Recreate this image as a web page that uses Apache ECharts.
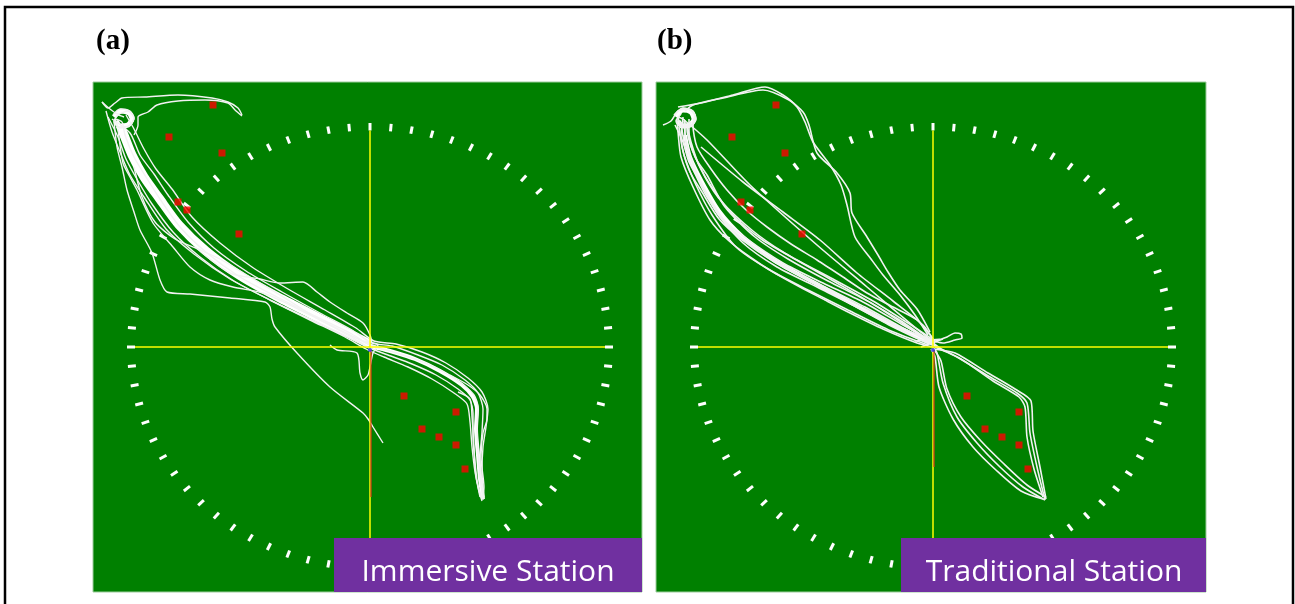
<!DOCTYPE html>
<html>
<head>
<meta charset="utf-8">
<script src="https://cdn.jsdelivr.net/npm/echarts@6/dist/echarts.min.js"></script>
<style>
  html, body { margin: 0; padding: 0; background: #fff; }
  #main { width: 1295px; height: 604px; }
</style>
</head>
<body>
<div id="main"></div>
<script>
// positions are offsets from the platform centre (x right, y up)
var tickAngles = [0, 5, 10, 15, 20, 25, 30, 35, 40, 45, 50, 55, 60, 65, 70, 75, 80, 85,
    90, 95, 100, 105, 110, 115, 120, 125, 130, 135, 140, 145, 150, 155, 160, 165, 170, 175,
    180, 185, 190, 195, 200, 205, 210, 215, 220, 225, 230, 235, 240, 245, 250, 255, 260, 265,
    270, 275, 280, 285, 290, 295, 300, 305, 310, 315, 320, 325, 330, 335, 340, 345, 350, 355]

// red targets (same in both panels)
var targets = [[-157, 242], [-201, 210], [-148, 194], [-192, 145], [-183, 137], [-131, 113],
    [34, -49], [86, -65], [52, -82], [69, -90], [86, -98], [95, -122]]

// (a) immersive station tracks
var coreA = [
    [[-250, 222], [-246, 212], [-238, 192], [-226, 170], [-211, 149], [-191, 122], [-164, 96], [-131, 72], [-94, 51], [-55, 31], [-22, 14], [0, 3]],
    [[0, 1], [20, -4], [45, -12], [70, -24], [92, -38], [103, -50], [107, -62], [106, -82], [108, -108], [110, -132], [113, -152]],
    [[-256, 230], [-249, 236], [-241, 234], [-238, 228], [-242, 222], [-250, 221], [-254, 226]]
]
var tracksA = [
    [[-268, 245], [-260, 238], [-252, 233], [-242, 236], [-236, 229], [-241, 221], [-251, 220], [-255, 228], [-248, 225], [-245, 212], [-236, 190], [-224, 170], [-210, 148], [-190, 120], [-163, 94], [-130, 70], [-93, 50], [-53, 30], [-20, 14], [0, 2], [20, -4], [45, -12], [70, -23], [92, -37], [104, -48], [108, -60], [107, -80], [108, -105], [110, -130], [113, -153]],
    [[-258, 228], [-240, 214], [-230, 192], [-216, 173], [-202, 152], [-182, 125], [-156, 99], [-124, 76], [-88, 55], [-50, 34], [-18, 17], [2, 4], [22, 1], [48, -8], [72, -18], [95, -33], [108, -46], [113, -62], [112, -85], [110, -112], [112, -138], [114, -152]],
    [[-262, 230], [-252, 210], [-244, 188], [-232, 166], [-218, 143], [-197, 115], [-170, 90], [-136, 66], [-98, 46], [-58, 27], [-24, 11], [-3, 0], [18, -8], [42, -17], [66, -28], [88, -42], [100, -53], [103, -66], [103, -90], [105, -115], [108, -140], [112, -154]],
    [[-264, 236], [-258, 215], [-250, 195], [-240, 172], [-226, 150], [-204, 118], [-176, 93], [-140, 68], [-100, 47], [-60, 27], [-25, 10], [-4, -2], [14, -10], [38, -20], [62, -32], [84, -46], [97, -57], [100, -75], [102, -100], [105, -125], [110, -150]],
    [[-244, 232], [-236, 218], [-226, 198], [-214, 178], [-198, 158], [-178, 130], [-150, 104], [-118, 80], [-82, 58], [-45, 37], [-14, 19], [4, 6], [26, 3], [52, -5], [76, -16], [98, -31], [112, -45], [118, -62], [116, -80], [113, -100], [112, -125], [114, -150]],
    [[-256, 226], [-253, 200], [-248, 180], [-243, 157], [-236, 135], [-230, 117], [-218, 94], [-210, 67], [-203, 55], [-180, 53], [-140, 49], [-105, 45], [-100, 40], [-98, 28], [-95, 20], [-73, -6], [-40, -40], [-7, -66], [-2, -72], [3, -80], [13, -96]],
    [[-252, 218], [-247, 184], [-240, 170], [-233, 157], [-217, 124], [-197, 100], [-180, 80], [-160, 67], [-137, 60], [-107, 54], [-80, 42], [-50, 27], [-20, 12], [0, 2]],
    [[-268, 245], [-262, 239], [-255, 244], [-248, 249], [-225, 250], [-192, 252], [-158, 249], [-142, 245], [-132, 239], [-128, 232]],
    [[-236, 212], [-232, 222], [-232, 230], [-222, 235], [-213, 242], [-192, 246], [-165, 247], [-142, 244], [-135, 237], [-128, 231]],
    [[-175, 100], [-140, 74], [-110, 68], [-90, 64], [-67, 65], [-53, 55], [-40, 45], [-23, 34], [-7, 24], [0, 12], [2, 4]],
    [[-40, 2], [-33, -3], [-13, -6], [-10, -26], [-7, -33], [-2, -28], [0, -20], [3, -6], [8, 2], [-8, 6], [12, -2]],
    [[80, -28], [98, -38], [110, -48], [117, -62], [117, -72], [113, -86], [111, -110], [114, -140], [113, -152]],
    [[88, -45], [100, -52], [102, -70], [104, -100], [106, -130], [112, -152]],
    [[-236, 180], [-228, 150], [-215, 125], [-195, 108], [-172, 98], [-150, 88], [-120, 70], [-90, 52], [-55, 30], [-22, 12], [-2, 0]],
    [[-257, 232], [-250, 238], [-240, 236], [-236, 229], [-240, 222], [-250, 219], [-256, 225], [-252, 232], [-246, 230]]
]

// (b) traditional station tracks
var coreB = [
    [[-248, 212], [-243, 190], [-231, 165], [-214, 136], [-190, 110], [-158, 86], [-118, 64], [-78, 42], [-36, 20], [0, 4]],
    [[-257, 230], [-250, 237], [-242, 235], [-239, 228], [-243, 222], [-251, 221], [-255, 226]]
]
var tracksB = [
    [[-270, 222], [-262, 226], [-255, 236], [-245, 238], [-238, 231], [-242, 222], [-252, 222], [-255, 230], [-248, 226], [-248, 215], [-246, 200], [-233, 167], [-216, 134], [-190, 104], [-156, 80], [-116, 60], [-76, 40], [-33, 20], [0, 5]],
    [[-256, 228], [-255, 215], [-252, 190], [-240, 160], [-223, 127], [-205, 107], [-183, 90], [-160, 75], [-133, 60], [-108, 47], [-83, 34], [-50, 18], [-16, 4], [0, 0]],
    [[-238, 232], [-240, 222], [-236, 200], [-222, 178], [-206, 157], [-188, 138], [-166, 120], [-142, 103], [-116, 87], [-90, 70], [-66, 54], [-40, 40], [-16, 27], [0, 8]],
    [[-250, 230], [-252, 210], [-249, 192], [-237, 162], [-221, 132], [-197, 100], [-165, 78], [-125, 57], [-85, 37], [-42, 16], [-5, 2]],
    [[-244, 228], [-244, 212], [-241, 198], [-228, 170], [-211, 145], [-180, 116], [-150, 95], [-110, 72], [-72, 50], [-35, 28], [-3, 6]],
    [[-258, 222], [-250, 205], [-244, 185], [-230, 160], [-212, 130], [-186, 108], [-150, 84], [-110, 64], [-70, 45], [-30, 22], [2, 4]],
    [[-242, 225], [-246, 218], [-238, 190], [-226, 172], [-208, 140], [-178, 110], [-145, 88], [-105, 66], [-62, 44], [-25, 20], [0, 2]],
    [[-252, 225], [-248, 200], [-240, 178], [-226, 150], [-204, 120], [-175, 97], [-140, 76], [-100, 55], [-60, 34], [-22, 12], [4, 0]],
    [[-254, 220], [-250, 196], [-243, 175], [-231, 155], [-214, 128], [-192, 108], [-160, 86], [-120, 64], [-80, 42], [-40, 20], [-4, 3]],
    [[-246, 222], [-242, 205], [-234, 182], [-220, 158], [-200, 132], [-172, 108], [-138, 88], [-100, 68], [-60, 46], [-22, 22], [2, 6]],
    [[-249, 226], [-247, 206], [-239, 180], [-225, 152], [-207, 124], [-180, 100], [-148, 80], [-108, 60], [-68, 40], [-28, 18], [0, 4]],
    [[-248, 236], [-240, 242], [-210, 249], [-170, 257], [-144, 247], [-130, 235], [-124, 222], [-116, 194], [-96, 174], [-83, 154], [-81, 134], [-66, 110], [-55, 92], [-45, 75], [-33, 57], [-16, 38], [-3, 15]],
    [[-255, 240], [-232, 244], [-200, 252], [-168, 260], [-150, 252], [-136, 240], [-128, 225], [-120, 205], [-103, 182], [-92, 162], [-86, 142], [-78, 110], [-62, 88], [-50, 72], [-33, 52], [-18, 32], [-5, 12]],
    [[-250, 228], [-226, 207], [-183, 162], [-116, 102], [-66, 60], [-16, 18], [0, 5]],
    [[-232, 200], [-190, 165], [-150, 135], [-113, 107], [-76, 74], [-40, 46], [-10, 22], [0, 8]],
    [[-18, 6], [10, 8], [-12, 0], [14, 10], [22, 14], [28, 13], [29, 9], [22, 7], [10, 4], [-8, 10], [8, -2]],
    [[0, 2], [24, -10], [57, -30], [84, -46], [94, -56], [97, -86], [104, -120], [112, -153]],
    [[0, -2], [22, -6], [55, -26], [82, -42], [98, -54], [100, -84], [107, -120], [113, -152]],
    [[2, 0], [28, -12], [60, -34], [86, -50], [92, -60], [94, -90], [101, -122], [110, -150]],
    [[0, 0], [4, -6], [10, -36], [24, -70], [44, -96], [67, -120], [90, -140], [112, -153]],
    [[-2, -2], [2, -10], [6, -40], [20, -72], [40, -100], [64, -124], [88, -144], [110, -152]],
    [[2, -4], [8, -14], [14, -42], [28, -70], [48, -94], [70, -116], [94, -138], [113, -150]],
    [[-259, 232], [-250, 239], [-240, 236], [-237, 228], [-242, 221], [-252, 220], [-257, 226], [-252, 233]]
]

var RX = 243, RY = 224   // tick ring radii (outer)
var redLenA = -150, redLenB = -120

var myChart = echarts.init(document.getElementById('main'))

function ticks(gi) {
    return {
        type: 'custom',
        xAxisIndex: gi,
        yAxisIndex: gi,
        silent: true,
        z: 2,
        data: tickAngles.map(function (a) { return [a, 0] }),
        encode: { x: 0, y: 1 },
        renderItem: function (params, api) {
            var a = api.value(0) * Math.PI / 180
            var c = Math.cos(a), s = Math.sin(a)
            var p1 = api.coord([c * RX, s * RY])
            var p2 = api.coord([c * (RX - 8), s * (RY - 7.5)])
            return {
                type: 'line',
                shape: { x1: p1[0], y1: p1[1], x2: p2[0], y2: p2[1] },
                style: { stroke: '#ffffff', lineWidth: 3 }
            }
        }
    }
}

function tracks(list, gi, width, color) {
    return list.map(function (p) {
        return {
            type: 'line',
            xAxisIndex: gi,
            yAxisIndex: gi,
            data: p,
            showSymbol: false,
            smooth: 0.25,
            silent: true,
            z: 3,
            lineStyle: { color: color || '#f2f2f2', width: width }
        }
    })
}

function cross(gi, redLen) {
    var s = []
    s.push({ type: 'line', xAxisIndex: gi, yAxisIndex: gi, data: [[-RX + 8, 0], [RX - 8, 0]], showSymbol: false, silent: true, z: 4, lineStyle: { color: '#ffff00', width: 1.5 } })
    s.push({ type: 'line', xAxisIndex: gi, yAxisIndex: gi, data: [[0, RY - 7.5], [0, -RY]], showSymbol: false, silent: true, z: 4, lineStyle: { color: '#ffff00', width: 1.5 } })
    s.push({ type: 'line', xAxisIndex: gi, yAxisIndex: gi, data: [[1, -3], [1, redLen]], showSymbol: false, silent: true, z: 4, lineStyle: { color: '#d83a1a', width: 1.2 } })
    s.push({ type: 'scatter', xAxisIndex: gi, yAxisIndex: gi, data: [[0, -3]], symbolSize: 4, silent: true, z: 5, itemStyle: { color: '#2a2aff' } })
    s.push({ type: 'scatter', xAxisIndex: gi, yAxisIndex: gi, data: targets, symbol: 'rect', symbolSize: 7, silent: true, z: 6, itemStyle: { color: '#ff0000' } })
    return s
}

var coreSeriesA = tracks(coreA, 0, 9, '#ffffff')
coreSeriesA[1].lineStyle.width = 4
coreSeriesA[2].lineStyle.width = 5
var coreSeriesB = tracks(coreB, 1, 4, '#ffffff')
coreSeriesB[1].lineStyle.width = 5

var series = [].concat(
    ticks(0), ticks(1),
    coreSeriesA, tracks(tracksA, 0, 1.4),
    coreSeriesB, tracks(tracksB, 1, 1.6),
    cross(0, redLenA), cross(1, redLenB)
)

function axisX(gi, min, max) {
    return { type: 'value', gridIndex: gi, min: min, max: max, show: false, splitLine: { show: false } }
}
function axisY(gi) {
    return { type: 'value', gridIndex: gi, min: -245, max: 265, show: false, splitLine: { show: false } }
}

myChart.setOption({
    animation: false,
    backgroundColor: '#ffffff',
    grid: [
        { left: 93, top: 82, width: 549, height: 510, show: true, backgroundColor: '#008000', borderColor: '#9ccc9c', borderWidth: 1 },
        { left: 656, top: 82, width: 550, height: 510, show: true, backgroundColor: '#008000', borderColor: '#9ccc9c', borderWidth: 1 }
    ],
    xAxis: [axisX(0, -277, 272), axisX(1, -277, 273)],
    yAxis: [axisY(0), axisY(1)],
    series: series,
    graphic: [
        { type: 'rect', z: 100, shape: { x: 5, y: 7, width: 1288, height: 700 }, style: { fill: 'none', stroke: '#000', lineWidth: 2.5 } },
        { type: 'text', z: 100, x: 96, y: 42, style: { text: '(a)', font: 'bold 29px "Liberation Serif"', fill: '#000', verticalAlign: 'middle' } },
        { type: 'text', z: 100, x: 657, y: 42, style: { text: '(b)', font: 'bold 29px "Liberation Serif"', fill: '#000', verticalAlign: 'middle' } },
        { type: 'rect', z: 100, shape: { x: 334, y: 538, width: 308, height: 54 }, style: { fill: '#7030a0' } },
        { type: 'rect', z: 100, shape: { x: 901, y: 538, width: 305, height: 54 }, style: { fill: '#7030a0' } },
        { type: 'text', z: 101, x: 488, y: 572, style: { text: 'Immersive Station', font: '30px "Open Sans"', fill: '#ffffff', align: 'center', verticalAlign: 'middle' } },
        { type: 'text', z: 101, x: 1054, y: 572, style: { text: 'Traditional Station', font: '30px "Open Sans"', fill: '#ffffff', align: 'center', verticalAlign: 'middle' } }
    ]
})
</script>
</body>
</html>
